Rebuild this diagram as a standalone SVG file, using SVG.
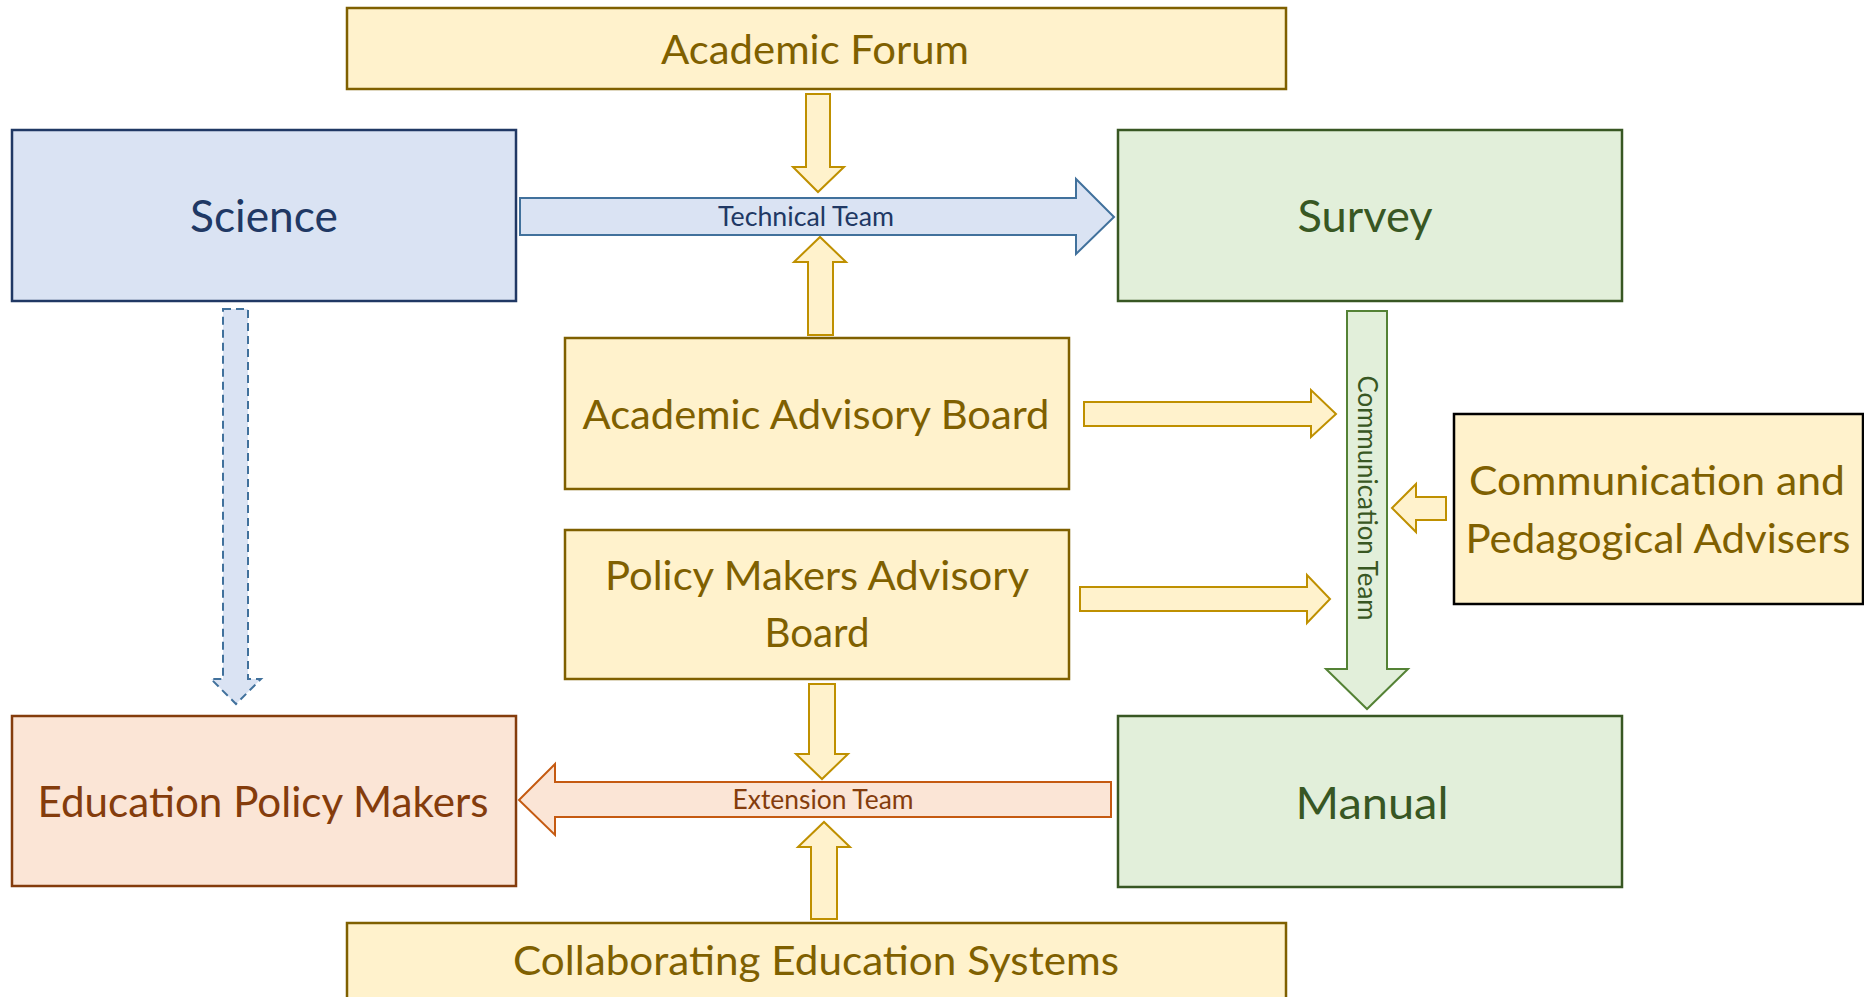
<svg xmlns="http://www.w3.org/2000/svg" width="1864" height="997" viewBox="0 0 1864 997">
<style>
text { font-family: Lato, "Open Sans", "Liberation Sans", sans-serif; text-anchor: middle; }
.yb { fill: #FFF2CC; stroke: #7F6000; stroke-width: 2.5; }
.yt { fill: #7F6000; font-size: 41px; }
.bb { fill: #DAE3F3; stroke: #203864; stroke-width: 2.5; }
.bt { fill: #203864; font-size: 45px; }
.gb { fill: #E2EFDA; stroke: #385723; stroke-width: 2.5; }
.gt { fill: #385723; font-size: 45px; }
.ob { fill: #FBE5D6; stroke: #843C0C; stroke-width: 2.5; }
.ot { fill: #843C0C; font-size: 42px; }
.ya { fill: #FFF2CC; stroke: #BF9000; stroke-width: 2; stroke-linejoin: miter; }
.ba { fill: #DAE3F3; stroke: #41719C; stroke-width: 2; }
.bd { fill: #DAE3F3; stroke: #41719C; stroke-width: 2; stroke-dasharray: 8 5; }
.ga { fill: #E2EFDA; stroke: #548235; stroke-width: 2; }
.oa { fill: #FBE5D6; stroke: #C55A11; stroke-width: 2; }
.lbl { font-size: 26px; }
</style>

<g id="connectors">
  <polygon class="ya" points="806,94 830,94 830,167 844,167 818,192 793,167 806,167"/>
  <polygon class="ya" points="808,335 833,335 833,262 846,262 820,237 794,262 808,262"/>
  <polygon class="ba" points="520,198 1076,198 1076,179 1114,217 1076,254 1076,235 520,235"/>
  <text class="lbl" x="806" y="226" fill="#203864" textLength="176" lengthAdjust="spacingAndGlyphs">Technical Team</text>
  <polygon class="ya" points="1084,402 1311,402 1311,390 1336,414 1311,437 1311,426 1084,426"/>
  <polygon class="ya" points="1080,587 1307,587 1307,575 1330,599 1307,623 1307,611 1080,611"/>
  <polygon class="ya" points="1446,497 1416,497 1416,484 1392,508 1416,532 1416,520 1446,520"/>
  <polygon class="ga" points="1347,311 1387,311 1387,669 1408,669 1367,709 1326,669 1347,669"/>
  <text class="lbl" transform="translate(1367,498) rotate(90)" y="9" fill="#385723" textLength="245" lengthAdjust="spacingAndGlyphs">Communication Team</text>
  <polygon class="ya" points="809,684 835,684 835,754 848,754 822,779 796,754 809,754"/>
  <polygon class="oa" points="1111,782 555,782 555,764 519,800 555,835 555,817 1111,817"/>
  <text class="lbl" x="823" y="809" fill="#843C0C" textLength="181" lengthAdjust="spacingAndGlyphs">Extension Team</text>
  <polygon class="ya" points="811,919 837,919 837,847 850,847 824,822 798,847 811,847"/>
  <polygon class="bd" points="223,309 248,309 248,679 261,679 236,704 211,679 223,679"/>
</g>

<g id="academic-forum">
  <rect class="yb" x="347" y="8" width="939" height="81"/>
  <text class="yt" x="815" y="64" textLength="308" lengthAdjust="spacingAndGlyphs">Academic Forum</text>
</g>
<g id="science">
  <rect class="bb" x="12" y="130" width="504" height="171"/>
  <text class="bt" x="264" y="232" textLength="148" lengthAdjust="spacingAndGlyphs">Science</text>
</g>
<g id="survey">
  <rect class="gb" x="1118" y="130" width="504" height="171"/>
  <text class="gt" x="1365" y="232" textLength="135" lengthAdjust="spacingAndGlyphs">Survey</text>
</g>
<g id="academic-advisory-board">
  <rect class="yb" x="565" y="338" width="504" height="151"/>
  <text class="yt" x="816" y="429" textLength="467" lengthAdjust="spacingAndGlyphs">Academic Advisory Board</text>
</g>
<g id="policy-makers-advisory-board">
  <rect class="yb" x="565" y="530" width="504" height="149"/>
  <text class="yt" x="817" y="590" textLength="424" lengthAdjust="spacingAndGlyphs">Policy Makers Advisory</text>
  <text class="yt" x="817" y="647" textLength="105" lengthAdjust="spacingAndGlyphs">Board</text>
</g>
<g id="communication-pedagogical-advisers">
  <rect x="1454" y="414" width="409" height="190" fill="#FFF2CC" stroke="#000000" stroke-width="2.5"/>
  <text class="yt" x="1657" y="495" textLength="376" lengthAdjust="spacingAndGlyphs">Communication and</text>
  <text class="yt" x="1658" y="553" textLength="385" lengthAdjust="spacingAndGlyphs">Pedagogical Advisers</text>
</g>
<g id="education-policy-makers">
  <rect class="ob" x="12" y="716" width="504" height="170"/>
  <text class="ot" x="263" y="817" textLength="451" lengthAdjust="spacingAndGlyphs">Education Policy Makers</text>
</g>
<g id="manual">
  <rect class="gb" x="1118" y="716" width="504" height="171"/>
  <text class="gt" x="1372" y="819" textLength="153" lengthAdjust="spacingAndGlyphs">Manual</text>
</g>
<g id="collaborating-education-systems">
  <rect class="yb" x="347" y="923" width="939" height="80"/>
  <text class="yt" x="816" y="975" textLength="606" lengthAdjust="spacingAndGlyphs">Collaborating Education Systems</text>
</g>
</svg>
